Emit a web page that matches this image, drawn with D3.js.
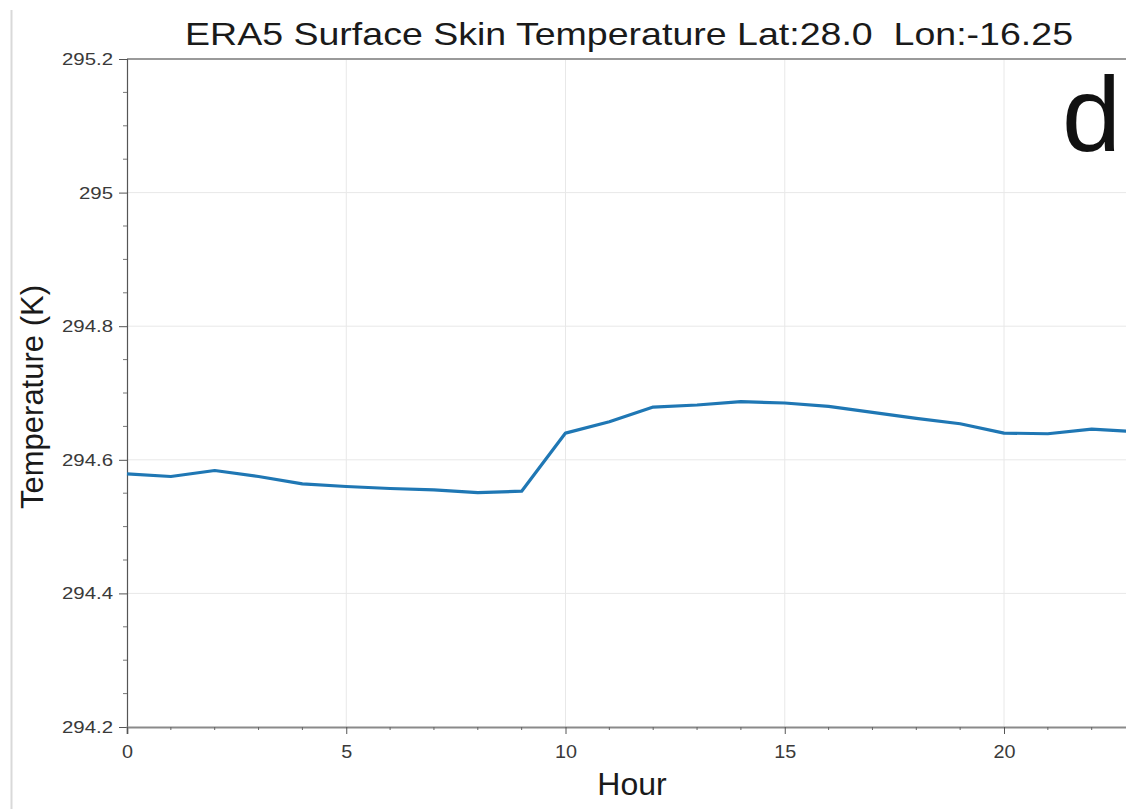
<!DOCTYPE html>
<html>
<head>
<meta charset="utf-8">
<script src="https://cdn.jsdelivr.net/npm/d3@7"></script>
<style>
  html, body { margin: 0; padding: 0; background: #fff; overflow: hidden; }
  svg { display: block; font-family: "Liberation Sans", Arial, Helvetica, sans-serif; }
</style>
</head>
<body>
<svg id="chart" width="1126" height="809"></svg>
<script>
// Hourly ERA5 skin temperature (K)
const hours = [0, 1, 2, 3, 4, 5, 6, 7, 8, 9, 10, 11, 12, 13, 14, 15, 16, 17, 18, 19, 20, 21, 22, 23];
const skinTemp = [294.579, 294.575, 294.584, 294.575, 294.564, 294.560, 294.557, 294.555, 294.551, 294.553,
                  294.640, 294.657, 294.679, 294.682, 294.687, 294.685, 294.680, 294.671, 294.662, 294.654,
                  294.640, 294.639, 294.646, 294.642];
const xTicks = [0, 5, 10, 15, 20];
const yTicks = [294.2, 294.4, 294.6, 294.8, 295.0, 295.2];
const yTickLabels = ["294.2", "294.4", "294.6", "294.8", "295", "295.2"];
const titleText = "ERA5 Surface Skin Temperature Lat:28.0  Lon:-16.25";
const panelLetter = "d";

const svg = d3.select("#chart");
const plotLeft = 127, plotTop = 59, plotBottom = 727;
const hourWidth = 43.85;

const x = d3.scaleLinear().domain([0, 23]).range([plotLeft, plotLeft + 23 * hourWidth]);
const y = d3.scaleLinear().domain([294.2, 295.2]).range([plotBottom, plotTop]);
const plotRight = x(23);

// widen a text element horizontally by a factor
function stretch(sel, k) {
  sel.each(function () {
    const w = this.getComputedTextLength();
    this.setAttribute("textLength", w * k);
    this.setAttribute("lengthAdjust", "spacingAndGlyphs");
  });
}

// page edge
svg.append("line").attr("x1", 11.5).attr("x2", 11.5).attr("y1", 10).attr("y2", 809)
  .attr("stroke", "#d9d9d9").attr("stroke-width", 2);

// grid
const grid = svg.append("g");
grid.selectAll(".gx").data(xTicks.filter(d => d > 0)).join("line")
  .attr("x1", d => x(d)).attr("x2", d => x(d)).attr("y1", plotTop).attr("y2", plotBottom)
  .attr("stroke", "#e8e8e8").attr("stroke-width", 1);
grid.selectAll(".gy").data(yTicks.slice(1, -1)).join("line")
  .attr("x1", plotLeft).attr("x2", plotRight).attr("y1", d => y(d)).attr("y2", d => y(d))
  .attr("stroke", "#e8e8e8").attr("stroke-width", 1);

// top frame
svg.append("line").attr("x1", plotLeft).attr("x2", plotRight).attr("y1", plotTop).attr("y2", plotTop)
  .attr("stroke", "#9a9a9a").attr("stroke-width", 2);

// y axis
const yAxis = d3.axisLeft(y).tickValues(yTicks)
  .tickFormat((d, i) => yTickLabels[i]).tickSize(8).tickPadding(6);
const gy = svg.append("g").attr("transform", `translate(${plotLeft},0)`).call(yAxis);
gy.select(".domain").attr("stroke", "#555").attr("stroke-width", 1.2);
gy.selectAll(".tick line").attr("stroke", "#555");
gy.selectAll(".tick text").attr("fill", "#3a3a3a").attr("font-size", 17).call(stretch, 1.2);

const yMinor = d3.range(0, 21).filter(i => i % 4 !== 0).map(i => 294.2 + i * 0.05);
svg.append("g").selectAll("line").data(yMinor).join("line")
  .attr("x1", plotLeft - 4).attr("x2", plotLeft).attr("y1", d => y(d)).attr("y2", d => y(d))
  .attr("stroke", "#777");

// x axis
const xAxis = d3.axisBottom(x).tickValues(xTicks).tickSize(7).tickPadding(11);
const gx = svg.append("g").attr("transform", `translate(0,${plotBottom})`).call(xAxis);
gx.select(".domain").attr("stroke", "#8a8a8a").attr("stroke-width", 2);
gx.selectAll(".tick line").attr("stroke", "#555");
gx.selectAll(".tick text").attr("fill", "#3a3a3a").attr("font-size", 18).call(stretch, 1.1);

const xMinor = hours.filter(h => h % 5 !== 0);
svg.append("g").selectAll("line").data(xMinor).join("line")
  .attr("x1", d => x(d)).attr("x2", d => x(d)).attr("y1", plotBottom).attr("y2", plotBottom + 3)
  .attr("stroke", "#666");

// series
const line = d3.line().x((d, i) => x(hours[i])).y(d => y(d));
svg.append("path").datum(skinTemp).attr("d", line)
  .attr("fill", "none").attr("stroke", "#1f77b4").attr("stroke-width", 3.2)
  .attr("stroke-linejoin", "round");

// labels
svg.append("text").attr("x", 629).attr("y", 45).attr("text-anchor", "middle")
  .style("white-space", "pre")
  .attr("font-size", 32).attr("fill", "#1a1a1a").text(titleText)
  .attr("textLength", 888).attr("lengthAdjust", "spacingAndGlyphs");
svg.append("text").attr("x", 1062).attr("y", 151).attr("text-anchor", "start")
  .attr("font-size", 106).attr("fill", "#111").text(panelLetter);
svg.append("text").attr("transform", `translate(43,397) rotate(-90)`).attr("text-anchor", "middle")
  .attr("font-size", 31).attr("fill", "#1a1a1a").text("Temperature (K)");
svg.append("text").attr("x", 632).attr("y", 795).attr("text-anchor", "middle")
  .attr("font-size", 32).attr("fill", "#1a1a1a").text("Hour");
</script>
</body>
</html>
